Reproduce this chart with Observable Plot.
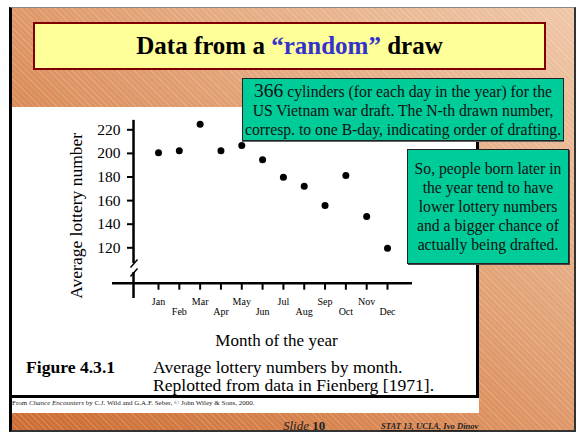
<!DOCTYPE html>
<html>
<head>
<meta charset="utf-8">
<script src="https://cdn.jsdelivr.net/npm/d3@7"></script>
<script src="https://cdn.jsdelivr.net/npm/@observablehq/plot@0.6"></script>
<style>
  html, body { margin: 0; padding: 0; width: 579px; height: 433px; overflow: hidden; background: #fff; }
  #page { position: relative; width: 579px; height: 433px; font-family: "Liberation Serif", "Times New Roman", serif; color: #000; }
  .abs { position: absolute; box-sizing: border-box; }
  #slide {
    left: 9px; top: 7px; width: 567px; height: 425px;
    border-top: 1px solid #888; border-left: 3px solid #000; border-right: 2px solid #333; border-bottom: 2px solid #333;
    background:
      repeating-linear-gradient(45deg, rgba(255,255,255,0.16) 0px, rgba(255,255,255,0.16) 1px, rgba(255,255,255,0) 1px, rgba(255,255,255,0) 4px),
      linear-gradient(to top right, #cc6c32 0%, #db8d5a 40%, #e6ad85 70%, #efc7a8 100%);
  }
  #panel { left: 12px; top: 107px; width: 467px; height: 291px; background: #fff; border-right: 3px solid #000; border-bottom: 3px solid #000; }
  #strip { left: 12px; top: 398px; width: 467px; height: 15px; background: #fff; }
  #credit { left: 12px; top: 399px; font-size: 7px; line-height: 9px; white-space: nowrap; color: #222; }
  #titlebox { left: 33px; top: 22px; width: 513px; height: 48px; background: #ffff99; border: 2px solid #800000;
    display: flex; align-items: center; justify-content: center; font-weight: bold; font-size: 25px; white-space: nowrap; }
  #titlebox .q { color: #3333cc; }
  #plotwrap { left: 0; top: 0; width: 579px; height: 433px; }
  .green { background: #00cc99; border: 1px solid #222; text-align: center; white-space: nowrap; color: #111;
    display: flex; flex-direction: column; justify-content: center; }
  #box1 { left: 242px; top: 78px; width: 322px; height: 63px; font-size: 15.7px; line-height: 19px; box-shadow: 0 1px 0 #666; }
  #box1 .big { font-size: 19.5px; }
  #box2 { left: 407px; top: 149px; width: 162px; height: 115px; font-size: 15.7px; line-height: 19px; box-shadow: 1px 1px 0 #444; }
  .cap { font-size: 17.6px; line-height: 18px; white-space: nowrap; }
  #figlab { left: 26px; top: 358px; font-weight: bold; font-size: 17.6px; }
  #cap1 { left: 153px; top: 358px; }
  #cap2 { left: 153px; top: 376px; }
  #slideno { left: 283px; top: 418px; font-size: 13px; line-height: 15px; color: #222; white-space: nowrap; }
  #slideno i { font-style: italic; }
  #author { left: 381px; top: 421px; font-size: 8.6px; line-height: 11px; font-weight: bold; font-style: italic; text-decoration: underline; color: #222; white-space: nowrap; }
</style>
</head>
<body>
<div id="page">
  <div id="slide" class="abs"></div>
  <div id="panel" class="abs"></div>
  <div id="strip" class="abs"></div>
  <div id="credit" class="abs">From <i>Chance Encounters</i> by C.J. Wild and G.A.F. Seber, © John Wiley &amp; Sons, 2000.</div>
  <div id="titlebox" class="abs"><span>Data from a <span class="q">“random”</span> draw</span></div>
  <div id="plotwrap" class="abs"></div>
  <div id="box1" class="abs green">
    <div><span class="big">366</span> cylinders (for each day in the year) for the</div>
    <div>US Vietnam war draft. The N-th drawn number,</div>
    <div>corresp. to one B-day, indicating order of drafting.</div>
  </div>
  <div id="box2" class="abs green">
    <div>So, people born later in</div>
    <div>the year tend to have</div>
    <div>lower lottery numbers</div>
    <div>and a bigger chance of</div>
    <div>actually being drafted.</div>
  </div>
  <div id="figlab" class="abs cap">Figure 4.3.1</div>
  <div id="cap1" class="abs cap">Average lottery numbers by month.</div>
  <div id="cap2" class="abs cap">Replotted from data in Fienberg [1971].</div>
  <div id="slideno" class="abs"><i>Slide</i> <b>10</b></div>
  <div id="author" class="abs">STAT 13, UCLA, Ivo Dinov</div>
</div>
<script>
// Data
const months = ["Jan","Feb","Mar","Apr","May","Jun","Jul","Aug","Sep","Oct","Nov","Dec"];
const monthIndex = [1,2,3,4,5,6,7,8,9,10,11,12];
const avgLottery = [200.5, 202.2, 224.7, 202.2, 206.7, 194.6, 179.8, 172.2, 155.8, 181.3, 146.5, 119.7];
const yTicks = [120, 140, 160, 180, 200, 220];
const oddTicks = [1, 3, 5, 7, 9, 11];
const evenTicks = [2, 4, 6, 8, 10, 12];
const yLabel = "Average lottery number";
const xLabel = "Month of the year";

const rows = monthIndex.map((m, i) => ({month: m, value: avgLottery[i]}));

// axis-line geometry in data units (axis break drawn on the y axis)
const xAxisLine = [{y: 90, x1: -1.21, x2: 13.2}];
const yAxisSegments = [{x: -0.2, y1: 228, y2: 106.7}, {x: -0.2, y1: 99.1, y2: 77}];
const breakSlashes = [
  {x1: -0.345, y1: 103.3, x2: -0.01, y2: 110.1},
  {x1: -0.345, y1: 95.7, x2: -0.01, y2: 102.5}
];

const serif = "'Liberation Serif', 'Times New Roman', serif";
const fmt = d => months[d - 1];

const chart = Plot.plot({
  width: 579,
  height: 433,
  marginLeft: 133,
  marginBottom: 150.3,
  marginTop: 120,
  marginRight: 160,
  style: {background: "transparent", fontFamily: serif, color: "#000", overflow: "visible"},
  x: {type: "linear", domain: [1, 12], range: [158, 387]},
  y: {type: "linear", domain: [120, 220], range: [247.3, 129.3]},
  marks: [
    Plot.ruleY(xAxisLine, {y: "y", x1: "x1", x2: "x2", stroke: "#000", strokeWidth: 2.5}),
    Plot.ruleX(yAxisSegments, {x: "x", y1: "y1", y2: "y2", stroke: "#000", strokeWidth: 2.5}),
    Plot.link(breakSlashes, {x1: "x1", y1: "y1", x2: "x2", y2: "y2", stroke: "#000", strokeWidth: 1.5}),
    Plot.axisY({ticks: yTicks, tickSize: 6, tickPadding: 7, fontSize: 15.5, strokeWidth: 2, label: null, tickFormat: d => String(d)}),
    Plot.axisX({ticks: oddTicks, tickFormat: fmt, tickSize: 7, tickPadding: 8, fontSize: 10, strokeWidth: 2, label: null}),
    Plot.axisX({ticks: evenTicks, tickFormat: fmt, tickSize: 7, tickPadding: 18, fontSize: 10, strokeWidth: 2, label: null}),
    Plot.dot(rows, {x: "month", y: "value", r: 3.5, fill: "#000", stroke: "none"}),
    Plot.text([yLabel], {text: d => d, frameAnchor: "left", textAnchor: "middle", dx: -57, dy: 14, rotate: -90, fontSize: 17.5, lineAnchor: "middle"}),
    Plot.text([xLabel], {text: d => d, frameAnchor: "bottom", textAnchor: "middle", dy: 57, fontSize: 17, lineAnchor: "middle"})
  ]
});
document.getElementById("plotwrap").appendChild(chart);
</script>
</body>
</html>
